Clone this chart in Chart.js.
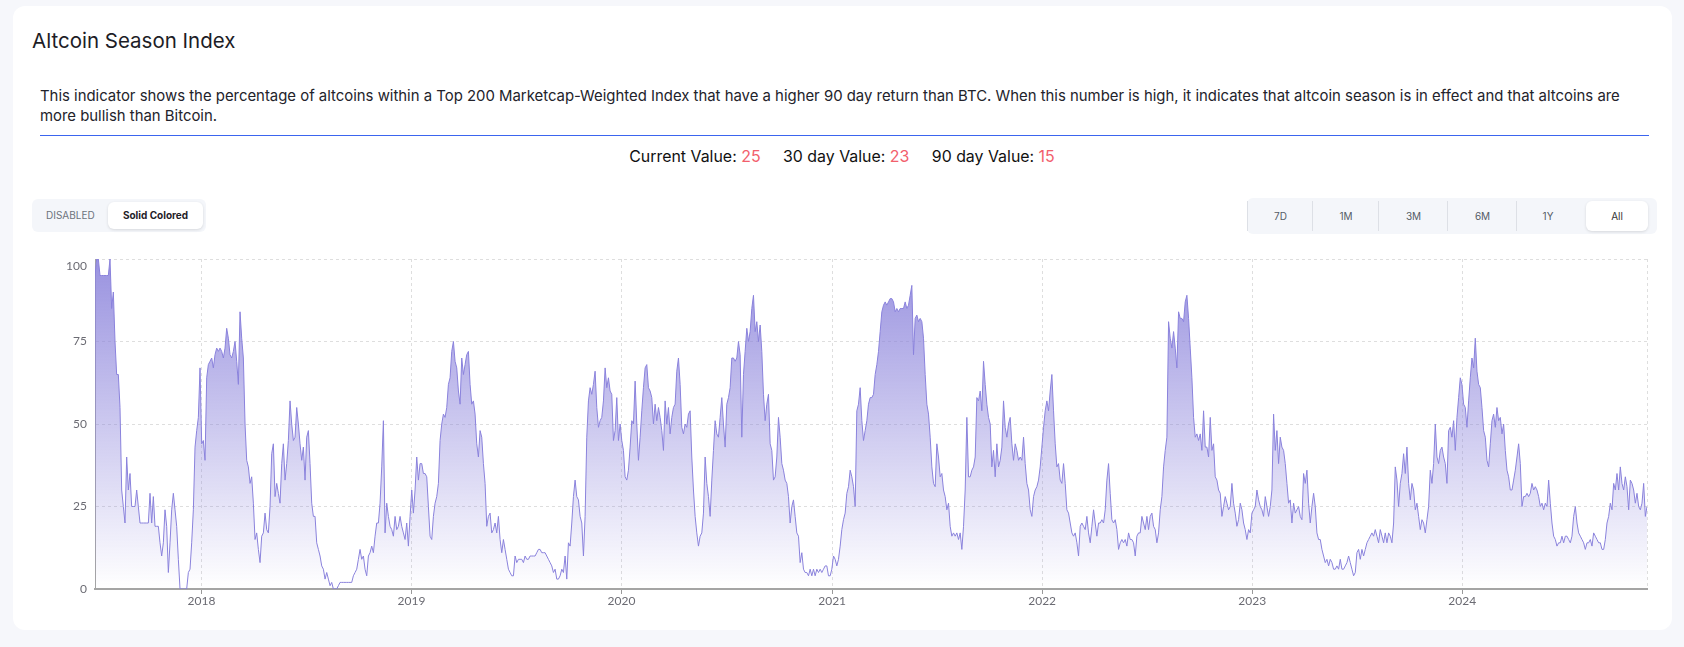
<!DOCTYPE html>
<html>
<head>
<meta charset="utf-8">
<title>Altcoin Season Index</title>
<script src="https://cdn.jsdelivr.net/npm/chart.js@4.4.1/dist/chart.umd.min.js"></script>
<style>
  html, body { margin: 0; padding: 0; }
  body {
    width: 1684px; height: 647px; position: relative; overflow: hidden;
    background: #f6f7fb; font-family: Inter, Lato, "Noto Sans", sans-serif; color: #222;
  }
  .card {
    position: absolute; left: 13px; top: 6px; width: 1659px; height: 624px;
    background: #fff; border-radius: 12px;
  }
  .title {
    position: absolute; left: 32px; top: 28px; margin: 0;
    font-size: 20.5px; font-weight: 400; line-height: 26px; color: #1d1d26;
  }
  .desc {
    position: absolute; left: 40px; top: 86px; width: 1615px; margin: 0;
    font-size: 14.9px; line-height: 20px; color: #23232b; white-space: nowrap;
  }
  .rule { position: absolute; left: 40px; top: 135px; width: 1609px; height: 1px; background: #3b65ef; }
  .values {
    position: absolute; left: 0; top: 146px; width: 1684px; text-align: center;
    font-size: 15.9px; line-height: 22px; color: #111;
  }
  .values .grp { margin: 0 9px; }
  .values .num { color: #f2606c; }
  .toggle {
    position: absolute; left: 32px; top: 199px; width: 174px; height: 33px;
    background: #f4f6fa; border-radius: 6px; font-size: 10px;
  }
  .toggle .off { position: absolute; left: 14px; top: 0; line-height: 33px; color: #6c737c; }
  .toggle .on {
    position: absolute; left: 76px; top: 3px; width: 95px; height: 27px; line-height: 27px;
    background: #fff; border-radius: 6px; text-align: center; font-weight: 700; color: #1f2128;
    box-shadow: 0 1px 3px rgba(0,0,0,0.12);
  }
  .ranges {
    position: absolute; left: 1247px; top: 198px; width: 410px; height: 36px;
    background: #f4f6fa; border-radius: 6px; font-size: 10px; color: #555b66;
  }
  .ranges span { position: absolute; top: 3px; height: 30px; line-height: 30px; text-align: center; }
  .ranges .sep { border-left: 1px solid #dde0e6; }
  .ranges .all {
    background: #fff; border-radius: 6px; box-shadow: 0 1px 3px rgba(0,0,0,0.12); color: #333;
  }
  .chart-box { position: absolute; left: 40px; top: 236px; width: 1622px; height: 380px; }
</style>
</head>
<body>
<div class="card"></div>
<h2 class="title">Altcoin Season Index</h2>
<p class="desc">This indicator shows the percentage of altcoins within a Top 200 Marketcap-Weighted Index that have a higher 90 day return than BTC. When this number is high, it indicates that altcoin season is in effect and that altcoins are<br>more bullish than Bitcoin.</p>
<div class="rule"></div>
<div class="values">
  <span class="grp">Current Value: <span class="num">25</span></span>
  <span class="grp">30 day Value: <span class="num">23</span></span>
  <span class="grp">90 day Value: <span class="num">15</span></span>
</div>
<div class="toggle"><span class="off">DISABLED</span><span class="on">Solid Colored</span></div>
<div class="ranges">
  <span class="sep" style="left:0;width:65px">7D</span>
  <span class="sep" style="left:65px;width:66px">1M</span>
  <span class="sep" style="left:131px;width:69px">3M</span>
  <span class="sep" style="left:200px;width:69px">6M</span>
  <span class="sep" style="left:269px;width:62px">1Y</span>
  <span class="all" style="left:339px;width:62px">All</span>
</div>
<div class="chart-box"><canvas id="altcoin-season"></canvas></div>

<script>
// data, one value every ~2.9 days from 30 Jun 2017
const startDate = '2017-06-30';
const stepDays = 2.897;
const yearLabels = ['2018', '2019', '2020', '2021', '2022', '2023', '2024'];
const yTickValues = [0, 25, 50, 75, 100];

const indexValues = [
  // mid 2017 - late 2018
  95,100,100,95,95,95,95,95,95,100,
  85,90,75,65,65,55,30,25,20,40,
  30,35,25,25,25,30,25,20,20,20,
  20,20,20,29,20,28,19,19,19,14,
  10,14,24,19,5,14,24,29,24,19,
  9,0,0,0,0,0,5,6,14,24,
  43,48,52,67,44,45,39,64,68,69,
  70,67,71,73,72,73,72,70,73,79,
  76,71,70,72,75,69,62,84,76,70,
  50,39,37,32,34,26,15,17,12,8,
  16,17,23,18,17,25,41,44,28,32,
  29,26,38,44,33,38,45,57,50,45,
  46,55,50,44,39,43,33,46,48,38,
  26,22,22,14,12,10,7,6,3,5,
  3,1,2,0,0,0,1,2,2,2,
  2,2,2,2,2,4,5,6,9,12,
  9,10,6,4,10,11,13,11,16,20,
  20,26,37,51,17,26,22,19,18,16,
  22,18,19,
  // late 2018 - early 2020
  22,19,17,15,20,13,22,30,23,30,
  40,33,38,38,35,35,34,25,16,15,
  22,26,28,32,45,50,53,52,55,62,
  64,72,75,69,67,60,56,70,65,68,
  71,72,62,56,57,53,44,40,48,46,
  38,32,19,22,23,17,18,20,17,22,
  15,11,15,12,9,6,5,4,4,10,
  8,9,9,9,8,10,9,9,10,10,
  10,10,11,12,12,11,11,11,10,9,
  8,7,5,6,3,3,4,6,5,10,
  3,14,13,20,28,33,28,27,22,20,
  10,22,46,57,61,59,62,66,55,49,
  51,52,57,67,61,64,60,59,45,48,
  58,45,50,45,42,34,33,36,43,51,
  50,63,50,39,46,54,61,67,68,61,
  60,58,50,56,51,55,52,48,42,57,
  50,55,47,52,55,56,66,70,62,49,
  47,50,49,53,54,40,30,22,17,13,
  16,17,23,40,32,28,
  // early 2020 - late 2021
  22,33,42,51,47,46,52,58,50,43,
  56,58,61,70,70,69,70,75,71,46,
  65,72,79,75,78,85,89,78,81,75,
  80,72,59,51,56,59,44,42,33,34,
  40,52,46,38,36,33,32,28,20,25,
  27,22,17,16,8,11,6,5,5,4,
  6,4,6,4,6,5,6,5,6,7,
  7,4,4,6,10,9,7,9,13,18,
  21,23,29,31,36,34,31,25,54,56,
  61,51,45,48,51,56,58,58,59,65,
  68,72,78,84,86,87,86,87,88,88,
  87,84,85,84,85,85,85,87,85,86,
  89,92,71,82,83,81,82,81,76,65,
  56,53,46,37,32,31,44,40,34,35,
  30,28,24,26,19,16,17,16,17,15,
  17,12,19,30,52,34,34,36,37,40,
  58,57,60,54,69,62,56,52,50,37,
  42,34,44,37,39,43,57,49,46,50,
  52,44,39,44,42,39,
  // late 2021 - mid 2023
  40,39,46,38,32,30,24,22,28,30,
  31,33,37,43,49,54,57,54,60,65,
  54,44,37,38,33,32,38,32,24,23,
  20,17,16,17,14,10,19,20,19,18,
  22,17,14,19,24,20,16,20,20,21,
  20,24,33,38,29,21,20,21,18,12,
  14,15,14,15,13,17,15,15,14,10,
  16,17,17,22,20,18,22,18,22,23,
  19,18,14,17,24,28,37,42,46,81,
  76,73,78,73,67,84,82,82,81,87,
  89,82,73,64,52,46,47,45,47,42,
  54,43,43,40,52,42,44,34,33,30,
  29,22,25,28,26,24,25,32,26,23,
  19,21,26,24,20,18,15,18,17,23,
  24,25,30,27,25,24,22,28,25,22,
  25,30,53,42,48,38,46,43,42,38,
  32,26,27,20,26,23,24,25,22,21,
  35,32,36,26,20,25,29,25,17,15,
  15,12,10,8,9,7,
  // mid 2023 - Nov 2024
  9,8,6,6,7,6,9,6,6,7,
  8,10,8,6,4,5,11,12,9,12,
  10,12,14,15,16,17,16,18,16,14,
  18,16,14,17,14,17,16,14,20,37,
  33,25,32,35,41,35,43,32,27,32,
  30,24,26,22,18,21,20,17,21,25,
  36,32,38,50,40,38,42,43,40,38,
  32,48,49,46,51,42,52,58,64,62,
  56,55,49,57,64,70,67,76,66,62,
  61,55,48,46,39,37,44,51,53,49,
  55,51,52,47,50,42,36,34,30,30,
  33,36,40,44,38,25,28,28,29,28,
  29,32,30,31,30,28,25,26,24,26,
  25,33,26,20,16,15,13,14,14,16,
  14,16,16,15,14,16,22,25,20,17,
  16,15,14,12,14,14,15,13,17,16,
  15,14,14,12,12,15,20,22,26,24,
  32,30,35,30,37,32,30,34,31,24,
  33,32,30,26,29,25,24,26,32,22,
  25
];

Chart.defaults.font.family = 'Lato, "Noto Sans", sans-serif';
Chart.defaults.font.size = 12;
Chart.defaults.color = '#6b6b73';

const start = Date.parse(startDate + 'T00:00:00Z');
const dayOfYear = y => (Date.parse(y + '-01-01T00:00:00Z') - start) / 864e5;
const lastDay = (indexValues.length - 1) * stepDays;
const points = indexValues.map((v, i) => ({x: i * stepDays, y: v}));

const canvas = document.getElementById('altcoin-season');

const areaFill = (context) => {
    const {ctx, chartArea} = context.chart;
    if (!chartArea) return 'rgba(139,131,219,0.4)';
    const g = ctx.createLinearGradient(0, chartArea.top, 0, chartArea.bottom);
    g.addColorStop(0, 'rgba(139,131,219,0.88)');
    g.addColorStop(1, 'rgba(139,131,219,0.0)');
    return g;
};

const data = {
    datasets: [{
        label: 'Altcoin Season Index',
        data: points,
        borderColor: '#8a82dc',
        borderWidth: 1,
        backgroundColor: areaFill,
        fill: 'origin',
        pointRadius: 0,
        tension: 0
    }]
};

const options = {
    responsive: true,
    maintainAspectRatio: false,
    animation: false,
    parsing: false,
    layout: {padding: {left: 0, right: 15, top: 21, bottom: 0}},
    plugins: {legend: {display: false}, tooltip: {enabled: false}},
    scales: {
        x: {
            type: 'linear', min: 0, max: lastDay,
            afterBuildTicks: (scale) => {
                scale.ticks = yearLabels.map(y => ({value: dayOfYear(y)})).concat([{value: lastDay}]);
            },
            afterFit: (scale) => { scale.height = 27; },
            ticks: {
                autoSkip: false, maxRotation: 0, padding: 0,
                callback: (v, i) => i < yearLabels.length ? yearLabels[i] : ''
            },
            grid: {
                color: '#dedede', tickLength: 5,
                tickColor: (c) => c.index < yearLabels.length ? '#9a9a9a' : 'rgba(0,0,0,0)'
            },
            border: {color: '#a4a4a4', width: 2, dash: [3, 3]}
        },
        y: {
            min: 0, max: 100,
            afterBuildTicks: (scale) => { scale.ticks = yTickValues.map(v => ({value: v})); },
            afterFit: (scale) => { scale.width = 55; },
            ticks: {
                padding: 8,
                font: {lineHeight: 1.25},
                callback: (v) => v === 100 ? ['', '100'] : v
            },
            grid: {color: '#dedede', drawTicks: false},
            border: {color: '#a4a4a4', width: 1, dash: [3, 3]}
        }
    }
};

new Chart(canvas, {type: 'line', data: data, options: options});
</script>
</body>
</html>
